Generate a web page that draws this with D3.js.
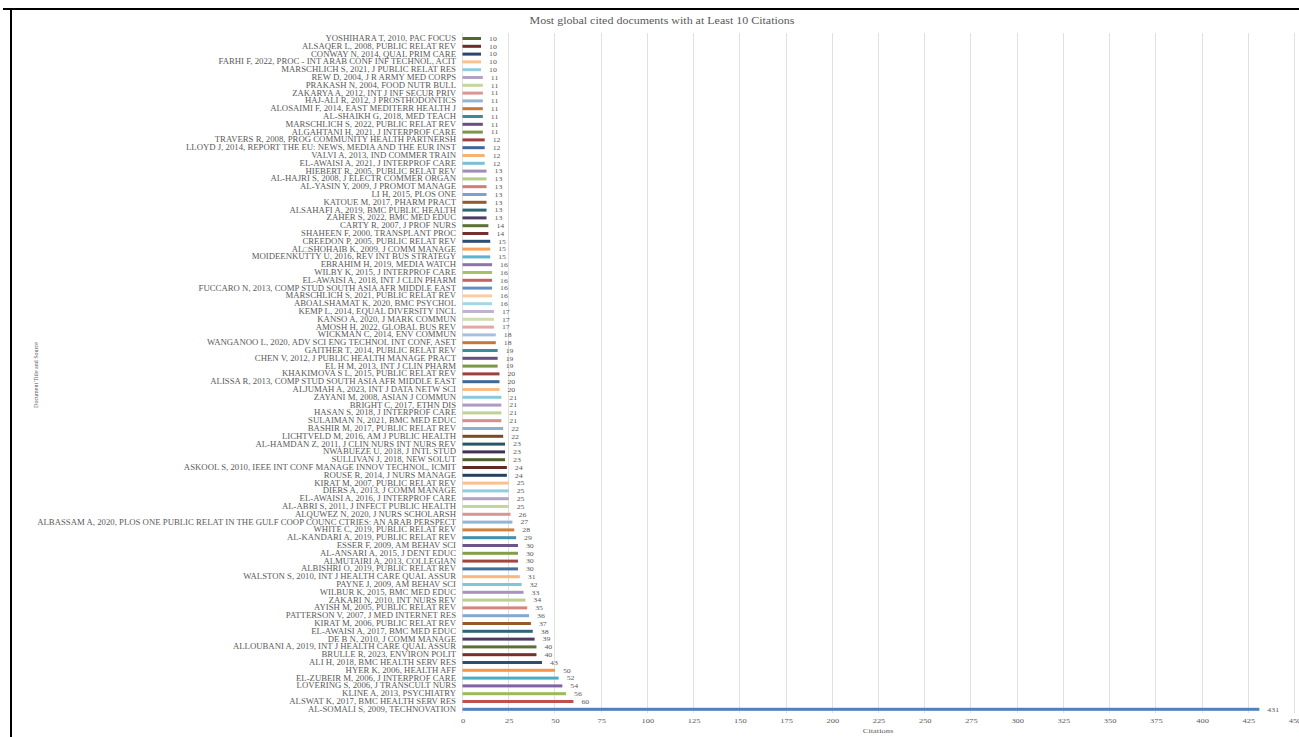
<!DOCTYPE html>
<html>
<head>
<meta charset="utf-8">
<script src="https://cdn.jsdelivr.net/npm/d3@7"></script>
<style>
body { margin: 0; background: #fff; }
svg { display: block; font-family: "Liberation Serif", "Times New Roman", serif; }
</style>
</head>
<body>
<svg id="chart" width="1299" height="737"></svg>
<script>
// documents, top to bottom as drawn
const docs = [
	"YOSHIHARA T, 2010, PAC FOCUS",
	"ALSAQER L, 2008, PUBLIC RELAT REV",
	"CONWAY N, 2014, QUAL PRIM CARE",
	"FARHI F, 2022, PROC - INT ARAB CONF INF TECHNOL, ACIT",
	"MARSCHLICH S, 2021, J PUBLIC RELAT RES",
	"REW D, 2004, J R ARMY MED CORPS",
	"PRAKASH N, 2004, FOOD NUTR BULL",
	"ZAKARYA A, 2012, INT J INF SECUR PRIV",
	"HAJ-ALI R, 2012, J PROSTHODONTICS",
	"ALOSAIMI F, 2014, EAST MEDITERR HEALTH J",
	"AL-SHAIKH G, 2018, MED TEACH",
	"MARSCHLICH S, 2022, PUBLIC RELAT REV",
	"ALGAHTANI H, 2021, J INTERPROF CARE",
	"TRAVERS R, 2008, PROG COMMUNITY HEALTH PARTNERSH",
	"LLOYD J, 2014, REPORT THE EU: NEWS, MEDIA AND THE EUR INST",
	"VALVI A, 2013, IND COMMER TRAIN",
	"EL-AWAISI A, 2021, J INTERPROF CARE",
	"HIEBERT R, 2005, PUBLIC RELAT REV",
	"AL-HAJRI S, 2008, J ELECTR COMMER ORGAN",
	"AL-YASIN Y, 2009, J PROMOT MANAGE",
	"LI H, 2015, PLOS ONE",
	"KATOUE M, 2017, PHARM PRACT",
	"ALSAHAFI A, 2019, BMC PUBLIC HEALTH",
	"ZAHER S, 2022, BMC MED EDUC",
	"CARTY R, 2007, J PROF NURS",
	"SHAHEEN F, 2000, TRANSPLANT PROC",
	"CREEDON P, 2005, PUBLIC RELAT REV",
	"AL\u25A1SHOHAIB  K, 2009, J COMM MANAGE",
	"MOIDEENKUTTY U, 2016, REV INT BUS STRATEGY",
	"EBRAHIM H, 2019, MEDIA WATCH",
	"WILBY K, 2015, J INTERPROF CARE",
	"EL-AWAISI A, 2018, INT J CLIN PHARM",
	"FUCCARO N, 2013, COMP STUD SOUTH ASIA AFR MIDDLE EAST",
	"MARSCHLICH S, 2021, PUBLIC RELAT REV",
	"ABOALSHAMAT K, 2020, BMC PSYCHOL",
	"KEMP L, 2014, EQUAL DIVERSITY INCL",
	"KANSO A, 2020, J MARK COMMUN",
	"AMOSH H, 2022, GLOBAL BUS REV",
	"WICKMAN C, 2014, ENV COMMUN",
	"WANGANOO L, 2020, ADV SCI ENG TECHNOL INT CONF, ASET",
	"GAITHER T, 2014, PUBLIC RELAT REV",
	"CHEN V, 2012, J PUBLIC HEALTH MANAGE PRACT",
	"EL H M, 2013, INT J CLIN PHARM",
	"KHAKIMOVA S L, 2015, PUBLIC RELAT REV",
	"ALISSA R, 2013, COMP STUD SOUTH ASIA AFR MIDDLE EAST",
	"ALJUMAH A, 2023, INT J DATA NETW SCI",
	"ZAYANI M, 2008, ASIAN J COMMUN",
	"BRIGHT C, 2017, ETHN DIS",
	"HASAN S, 2018, J INTERPROF CARE",
	"SULAIMAN N, 2021, BMC MED EDUC",
	"BASHIR M, 2017, PUBLIC RELAT REV",
	"LICHTVELD M, 2016, AM J PUBLIC HEALTH",
	"AL-HAMDAN Z, 2011, J CLIN NURS INT NURS REV",
	"NWABUEZE U, 2018, J INTL STUD",
	"SULLIVAN J, 2018, NEW SOLUT",
	"ASKOOL S, 2010, IEEE INT CONF MANAGE INNOV TECHNOL, ICMIT",
	"ROUSE R, 2014, J NURS MANAGE",
	"KIRAT M, 2007, PUBLIC RELAT REV",
	"DIERS A, 2013, J COMM MANAGE",
	"EL-AWAISI A, 2016, J INTERPROF CARE",
	"AL-ABRI S, 2011, J INFECT PUBLIC HEALTH",
	"ALQUWEZ N, 2020, J NURS SCHOLARSH",
	"ALBASSAM A, 2020, PLOS ONE PUBLIC RELAT IN THE GULF COOP COUNC CTRIES: AN ARAB PERSPECT",
	"WHITE C, 2019, PUBLIC RELAT REV",
	"AL-KANDARI A, 2019, PUBLIC RELAT REV",
	"ESSER F, 2009, AM BEHAV SCI",
	"AL-ANSARI A, 2015, J DENT EDUC",
	"ALMUTAIRI A, 2013, COLLEGIAN",
	"ALBISHRI O, 2019, PUBLIC RELAT REV",
	"WALSTON S, 2010, INT J HEALTH CARE QUAL ASSUR",
	"PAYNE J, 2009, AM BEHAV SCI",
	"WILBUR K, 2015, BMC MED EDUC",
	"ZAKARI N, 2010, INT NURS REV",
	"AYISH M, 2005, PUBLIC RELAT REV",
	"PATTERSON V, 2007, J MED INTERNET RES",
	"KIRAT M, 2006, PUBLIC RELAT REV",
	"EL-AWAISI A, 2017, BMC MED EDUC",
	"DE B N, 2010, J COMM MANAGE",
	"ALLOUBANI A, 2019, INT J HEALTH CARE QUAL ASSUR",
	"BRULLE R, 2023, ENVIRON POLIT",
	"ALI H, 2018, BMC HEALTH SERV RES",
	"HYER K, 2006, HEALTH AFF",
	"EL-ZUBEIR M, 2006, J INTERPROF CARE",
	"LOVERING S, 2006, J TRANSCULT NURS",
	"KLINE A, 2013, PSYCHIATRY",
	"ALSWAT K, 2017, BMC HEALTH SERV RES",
	"AL-SOMALI S, 2009, TECHNOVATION"
];
const citations = [
	10, 10, 10, 10, 10, 11, 11, 11, 11, 11, 11, 11, 11,
	12, 12, 12, 12, 13, 13, 13, 13, 13, 13, 13, 14, 14,
	15, 15, 15, 16, 16, 16, 16, 16, 16, 17, 17, 17, 18, 18,
	19, 19, 19, 20, 20, 20, 21, 21, 21, 21, 22, 22, 23, 23, 23,
	24, 24, 25, 25, 25, 25, 26, 27, 28, 29, 30, 30, 30, 30,
	31, 32, 33, 34, 35, 36, 37, 38, 39, 40, 40, 43,
	50, 52, 54, 56, 60, 431
];
const xTicks = [0, 25, 50, 75, 100, 125, 150, 175, 200, 225, 250, 275, 300, 325, 350, 375, 400, 425, 450];

// office style hues, then lighter/darker rounds of them (counted from the bottom bar)
const hues = ["#4F81BD", "#C0504D", "#9BBB59", "#8064A2", "#4BACC6", "#F79646"];
const shades = [0, -0.4, 0.3, -0.15, 0.4, -0.5, 0.35, -0.2, 0.5, 0.1, -0.4, 0.25, -0.2, 0.4, -0.45];

function barColor(i) {
	const k = docs.length - 1 - i;
	const base = hues[k % 6];
	const t = shades[Math.floor(k / 6) % shades.length];
	return t >= 0 ? d3.interpolateRgb(base, "#fff")(t) : d3.interpolateRgb(base, "#000")(-t);
}

const svg = d3.select("#chart");
const textCol = "#595959";
const stretch = 1.2; // the source picture is a bit wider than tall

const x = d3.scaleLinear().domain([0, 450]).range([462.5, 1294.5]);
const y = d3.scaleBand().domain(d3.range(docs.length)).range([34.6, 713.2]);
const yc = i => y(i) + y.bandwidth() / 2;

// page frame around the figure
svg.append("line").attr("x1", 3).attr("x2", 1299).attr("y1", 9).attr("y2", 9)
	.attr("stroke", "#000").attr("stroke-width", 2);
svg.append("line").attr("x1", 11).attr("x2", 11).attr("y1", 9).attr("y2", 737)
	.attr("stroke", "#000").attr("stroke-width", 2);

svg.append("text")
	.attr("transform", `translate(662,24) scale(${stretch},1)`)
	.attr("text-anchor", "middle")
	.style("font-size", "10px")
	.attr("fill", textCol)
	.text("Most global cited documents with at Least 10 Citations");

// grid
svg.append("g").selectAll("line")
	.data(xTicks)
	.enter().append("line")
	.attr("x1", d => x(d)).attr("x2", d => x(d))
	.attr("y1", 33).attr("y2", 713)
	.attr("stroke", "#e0e0e0").attr("stroke-width", 1)
	.attr("shape-rendering", "crispEdges");

// x axis labels
const xAxis = svg.append("g")
	.attr("transform", "translate(0,713)")
	.call(d3.axisBottom(x).tickValues(xTicks).tickSize(0).tickPadding(5));
xAxis.select(".domain").remove();
xAxis.selectAll("text")
	.attr("fill", textCol)
	.attr("transform", `scale(${stretch},1)`)
	.style("font-family", "'Liberation Serif', 'Times New Roman', serif")
	.style("font-size", "7px");

svg.append("text")
	.attr("transform", `translate(878,733) scale(${stretch},1)`)
	.attr("text-anchor", "middle")
	.attr("fill", textCol)
	.style("font-size", "7px")
	.text("Citations");

svg.append("text")
	.attr("transform", "translate(38,375) rotate(-90)")
	.attr("text-anchor", "middle")
	.attr("fill", textCol)
	.style("font-size", "6px")
	.text("Document Title and Source");

// category labels
svg.append("g").selectAll("text")
	.data(docs)
	.enter().append("text")
	.attr("transform", (d, i) => `translate(456,${yc(i)}) scale(${stretch},1)`)
	.attr("dy", "0.35em")
	.attr("text-anchor", "end")
	.attr("fill", textCol)
	.style("font-size", "7.3px")
	.text(d => d);

// bars
svg.append("g").selectAll("rect")
	.data(citations)
	.enter().append("rect")
	.attr("x", x(0))
	.attr("y", (d, i) => yc(i) - 1.5)
	.attr("width", d => x(d) - x(0))
	.attr("height", 3)
	.attr("fill", (d, i) => barColor(i));

// value labels
svg.append("g").selectAll("text")
	.data(citations)
	.enter().append("text")
	.attr("transform", (d, i) => `translate(${x(d) + 8},${yc(i)}) scale(${stretch},1)`)
	.attr("dy", "0.35em")
	.attr("fill", textCol)
	.style("font-size", "6.5px")
	.text(d => d);
</script>
</body>
</html>
